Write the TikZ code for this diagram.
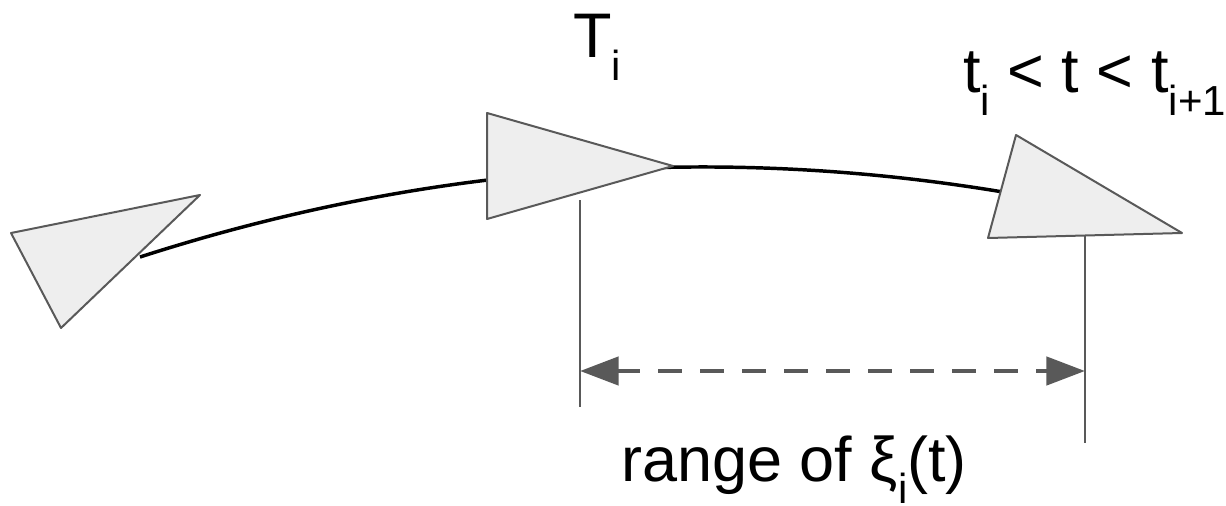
\documentclass[tikz,border=0pt]{standalone}
\usepackage{fontspec}
\setmainfont{Liberation Sans}
\usetikzlibrary{arrows.meta}
\definecolor{edgegrey}{HTML}{595959}
\definecolor{fillgrey}{HTML}{EEEEEE}
\newcommand{\mysub}[1]{\raisebox{-17pt}{\fontsize{31.5}{31.5}\selectfont #1}}
\tikzset{
  tri/.style={draw=edgegrey, fill=fillgrey, line width=1.5pt, line join=round},
  path/.style={draw=black, line width=2.6pt},
  guide/.style={draw=edgegrey, line width=1.1pt},
  span/.style={draw=edgegrey, line width=3.5pt, dash pattern=on 18pt off 13.5pt, dash phase=1pt,
     {Triangle[length=29pt,width=21pt]}-{Triangle[length=29pt,width=21pt]}},
  lbl/.style={inner sep=0pt, anchor=base west, font=\fontsize{47.25}{47.25}\selectfont}
}
\begin{document}
\begin{tikzpicture}[x=0.75pt,y=-0.75pt]
\useasboundingbox (0,0) rectangle (1226,506);
% path curve
\coordinate (c0) at (140,257);
\coordinate (c1) at (1003,192);
\draw[path] (c0) .. controls (424.7,165.3) and (712.3,143.7) .. (c1);
% guide lines
\coordinate (g1t) at (580,200);
\coordinate (g1b) at (580,407);
\coordinate (g2t) at (1085,234);
\coordinate (g2b) at (1085,443);
\draw[guide] (g1t) -- (g1b);
\draw[guide] (g2t) -- (g2b);
% triangles
\draw[tri] (11,233) -- (200,195) -- (61,328) -- cycle;
\draw[tri] (487,113) -- (673,166) -- (487,219) -- cycle;
\draw[tri] (1016,135) -- (1182,233) -- (988,238) -- cycle;
% range arrow
\coordinate (a1) at (580,371);
\coordinate (a2) at (1085,371);
\draw[span] (a1) -- (a2);
% labels
\node[lbl] (Ti) at (573,58) {T\mysub{i}};
\node[lbl] (tt) at (963,93) {t\mysub{i} < t < t\mysub{i+1}};
\node[lbl] (rg) at (621,481) {range of ξ\mysub{i}(t)};
\end{tikzpicture}
\end{document}
